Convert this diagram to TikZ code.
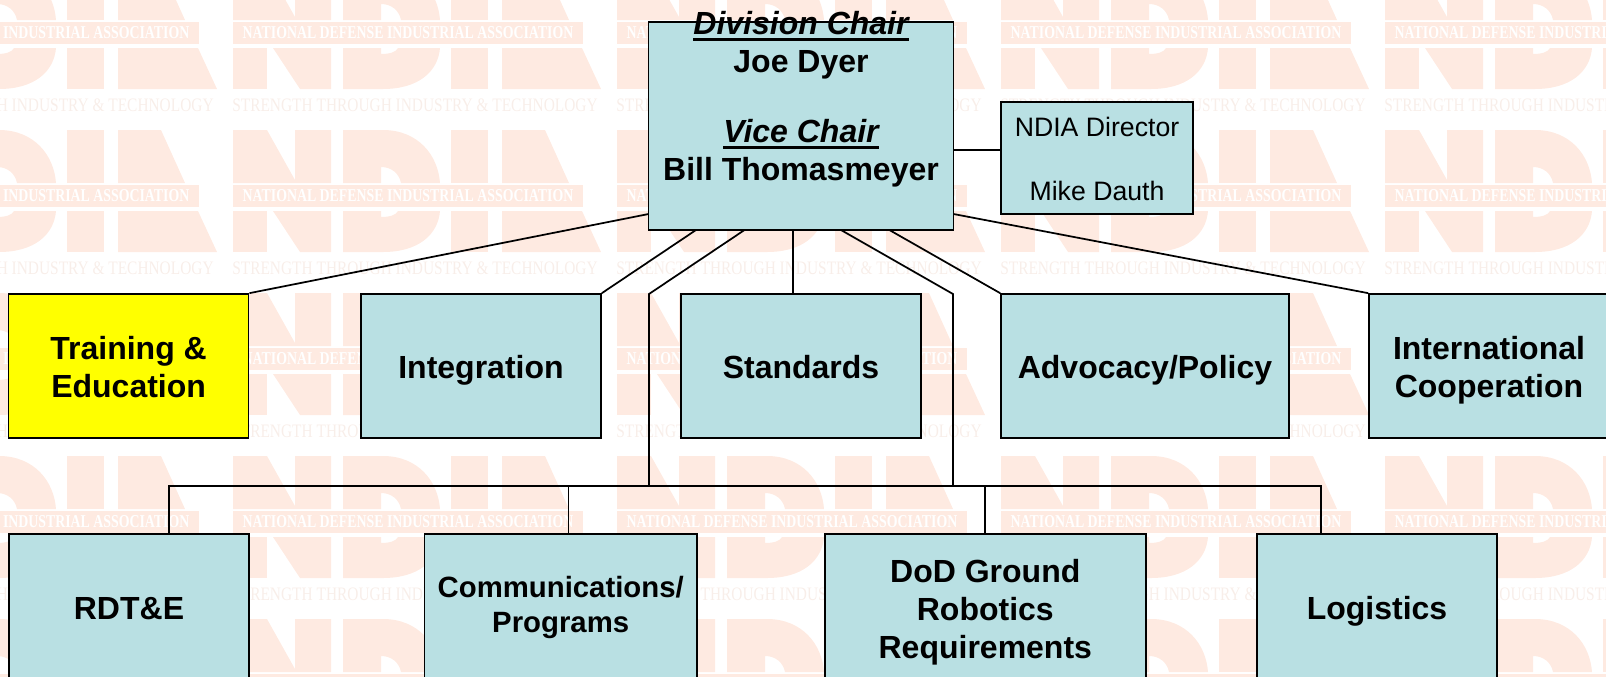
\documentclass[tikz,border=0pt]{standalone}
\usepackage{graphicx}
\usepackage{fontspec}
\setmainfont{Liberation Sans}
\newfontfamily\wmfont{Liberation Serif}
\definecolor{wmark}{HTML}{FEEAE1}
\definecolor{wmtext}{HTML}{F8EEE9}
\definecolor{boxblue}{HTML}{B9E0E3}
\definecolor{boxyellow}{HTML}{FFFF00}
\newcommand{\titleline}[1]{\setbox0\hbox{#1}\rlap{\rule[-5pt]{\wd0}{2.3pt}}\box0}
\newcommand{\boxstrut}{\rule{0pt}{1.05em}}
\newcommand{\lowstrut}{\rule{0pt}{1em}}
\newcommand{\boxdepth}{\rule[-.25em]{0pt}{0pt}}
\tikzset{
    orgbox/.style={draw=black,line width=1.3pt,fill=boxblue,inner sep=0pt,align=center,
        font=\fontsize{24}{28.5}\selectfont\bfseries,minimum width=180pt,minimum height=108pt},
    lowbox/.style={orgbox,minimum height=109.5pt},
    link/.style={draw=black,line width=1.3pt}
}
\begin{document}
\begin{tikzpicture}[x=0.75pt,y=-0.75pt]
    \useasboundingbox (0,0) rectangle (1606,676);
    \clip (0,0) rectangle (1606,676);

    % Watermark tiles
    \foreach \col in {-1,...,3} {
        \foreach \row in {-1,...,3} {
            \begin{scope}[shift={(233+384*\col,130+163*\row)}]
                \fill[wmark] (0,0) -- (34,0) -- (62,50) -- (62,0) -- (98,0) -- (98,53) -- (0,53) -- cycle;
                \fill[wmark] (0,81) rectangle (34,122);
                \fill[wmark] (40,81) -- (98,81) -- (98,122) -- (67,122) -- cycle;
                \fill[wmark] (110,0) -- (150,0) .. controls (185,0) and (205,25) .. (207,53) -- (168,53) .. controls (166,43) and (158,37) .. (148,37) -- (148,53) -- (110,53) -- cycle;
                \fill[wmark] (110,81) -- (148,81) -- (148,87) .. controls (157,87) and (163,85) .. (165,81) -- (207,81) .. controls (205,105) and (185,122) .. (150,122) -- (110,122) -- cycle;
                \fill[wmark] (218,0) rectangle (255,53);
                \fill[wmark] (218,81) rectangle (255,122);
                \fill[wmark] (269,0) -- (312,0) -- (336,53) -- (269,53) -- cycle;
                \fill[wmark] (269,81) -- (349,81) -- (368,122) -- (269,122) -- cycle;
                \fill[wmark] (0,55) rectangle (350,77);
                \node[text=white,inner sep=0pt] (band\col\row) at (175,66)
                    {\resizebox{248pt}{9pt}{\wmfont\bfseries NATIONAL DEFENSE INDUSTRIAL ASSOCIATION}};
                \node[text=wmtext,inner sep=0pt] (motto\col\row) at (182,138)
                    {\resizebox{274pt}{9.5pt}{\wmfont STRENGTH THROUGH INDUSTRY \& TECHNOLOGY}};
            \end{scope}
        }
    }

    % Chair and director
    \node[orgbox,minimum width=228.7pt,minimum height=156pt] (chair) at (801,126) {};
    \node[font=\fontsize{24}{28.5}\selectfont\bfseries,align=center,inner sep=0pt,anchor=north] (chairtext) at (801,11)
        {\titleline{\itshape Division Chair}\\Joe Dyer\\[24pt]\titleline{\itshape Vice Chair}\\Bill Thomasmeyer};
    \node[orgbox,minimum width=144pt,minimum height=84pt,font=\fontsize{20}{24}\selectfont] (director) at (1097,157.7)
        {\boxstrut NDIA Director\\~\\Mike Dauth\boxdepth};

    % First row
    \node[orgbox,fill=boxyellow] (training) at (128.6,366) {\boxstrut Training \&\\Education\boxdepth};
    \node[orgbox] (integration) at (481,366) {\boxstrut Integration\boxdepth};
    \node[orgbox] (standards) at (801,366) {\boxstrut Standards\boxdepth};
    \node[orgbox,minimum width=216pt] (advocacy) at (1145,366) {\boxstrut Advocacy/Policy\boxdepth};
    \node[orgbox] (international) at (1489,366) {\boxstrut International\\Cooperation\boxdepth};

    % Second row
    \node[lowbox] (rdte) at (129,607) {\lowstrut RDT\&E\boxdepth};
    \node[lowbox,minimum width=204.4pt,font=\fontsize{22}{26.3}\selectfont\bfseries] (comms) at (560.7,607) {\rule{0pt}{.8em}Communications/\\Programs\boxdepth};
    \node[lowbox,minimum width=241pt] (dod) at (985.3,607) {\rule{0pt}{1.08em}DoD Ground\\Robotics\\Requirements\boxdepth};
    \node[lowbox] (logistics) at (1377,607) {\lowstrut Logistics\boxdepth};

    % Free ends on the chair box and the bus
    \coordinate (chairl) at (648.6,214);
    \coordinate (chairr) at (953.5,214);
    \coordinate (chairm) at (953.5,150);
    \coordinate (chairb1) at (696,230);
    \coordinate (chairb2) at (744.5,230);
    \coordinate (chairb3) at (792.7,230);
    \coordinate (chairb4) at (841,230);
    \coordinate (chairb5) at (889.4,230);
    \coordinate (riserl) at (649,294);
    \coordinate (riserr) at (953,294);
    \coordinate (busw) at (169,486);
    \coordinate (buse) at (1321,486);
    \coordinate (buscomm) at (568.4,486);

    % Links to the first row
    \draw[link] (chairl) -- (training.north east);
    \draw[link] (chairb1) -- (integration.north east);
    \draw[link] (chairb3) -- (chairb3 |- standards.north);
    \draw[link] (chairb5) -- (advocacy.north west);
    \draw[link] (chairr) -- (international.north west);
    \draw[link] (chairm) -- (director.west |- chairm);

    % Risers and bus to the second row
    \draw[link] (chairb2) -- (riserl) -- (riserl |- busw);
    \draw[link] (chairb4) -- (riserr) -- (riserr |- busw);
    \draw[link] (busw |- rdte.north) -- (busw) -- (buse) -- (buse |- logistics.north);
    \draw[link] (buscomm) -- (buscomm |- comms.north);
    \draw[link] (dod.north) -- (dod.north |- busw);
\end{tikzpicture}
\end{document}
